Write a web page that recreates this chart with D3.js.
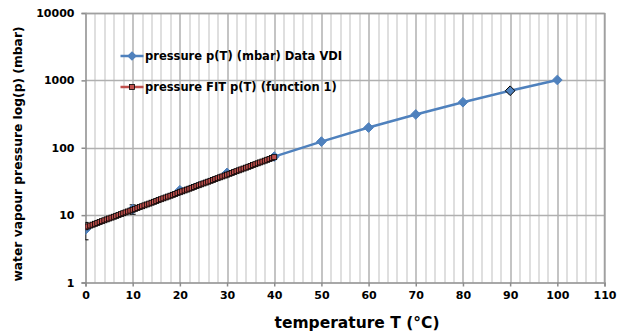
<!DOCTYPE html>
<html>
<head>
<meta charset="utf-8">
<script src="https://cdn.jsdelivr.net/npm/d3@7"></script>
<style>
  body { margin: 0; background: #fff; }
  text { font-family: "DejaVu Sans", Verdana, sans-serif; font-weight: bold; fill: #000; }
</style>
</head>
<body>
<div id="chart"></div>
<script>
// VDI table data
var vdiT = [0, 10, 20, 30, 40, 50, 60, 70, 80, 90, 100];
var vdiP = [6.1, 12.3, 23.4, 42.4, 73.8, 123.4, 199.4, 311.8, 473.8, 701.8, 1013];
// error bars on the first points (low, high)
var errT = [0, 10];
var errLo = [4.3, 10.3];
var errHi = [7.8, 14.2];

// fitted curve (function 1)
var fitT = [0, 0.5, 1, 1.5, 2, 2.5, 3, 3.5, 4, 4.5, 5, 5.5, 6, 6.5, 7, 7.5, 8, 8.5, 9, 9.5,
  10, 10.5, 11, 11.5, 12, 12.5, 13, 13.5, 14, 14.5, 15, 15.5, 16, 16.5, 17, 17.5, 18, 18.5, 19, 19.5,
  20, 20.5, 21, 21.5, 22, 22.5, 23, 23.5, 24, 24.5, 25, 25.5, 26, 26.5, 27, 27.5, 28, 28.5, 29, 29.5,
  30, 30.5, 31, 31.5, 32, 32.5, 33, 33.5, 34, 34.5, 35, 35.5, 36, 36.5, 37, 37.5, 38, 38.5, 39, 39.5, 40];
var fitP = [6.60, 6.80, 7.01, 7.22, 7.44, 7.67, 7.90, 8.14, 8.39, 8.65, 8.91, 9.18, 9.46, 9.75, 10.05, 10.35, 10.67, 10.99, 11.33, 11.67,
  12.03, 12.39, 12.77, 13.16, 13.56, 13.97, 14.40, 14.83, 15.28, 15.75, 16.23, 16.72, 17.23, 17.75, 18.29, 18.85, 19.42, 20.01, 20.62, 21.25,
  21.89, 22.56, 23.24, 23.95, 24.68, 25.43, 26.20, 27.00, 27.82, 28.66, 29.53, 30.43, 31.36, 32.31, 33.29, 34.30, 35.34, 36.42, 37.52, 38.66,
  39.84, 41.05, 42.30, 43.58, 44.91, 46.27, 47.68, 49.13, 50.62, 52.16, 53.75, 55.38, 57.06, 58.80, 60.58, 62.42, 64.32, 66.27, 68.29, 70.36, 72.50];

var xTicks = [0, 10, 20, 30, 40, 50, 60, 70, 80, 90, 100, 110];
var xMinor = [2, 4, 6, 8, 12, 14, 16, 18, 22, 24, 26, 28, 32, 34, 36, 38, 42, 44, 46, 48, 52, 54, 56, 58,
  62, 64, 66, 68, 72, 74, 76, 78, 82, 84, 86, 88, 92, 94, 96, 98, 102, 104, 106, 108];
var yTicks = [1, 10, 100, 1000, 10000];
var seriesNames = ["pressure p(T) (mbar) Data VDI", "pressure FIT p(T) (function 1)"];
var selectedT = 90;

var width = 617, height = 335,
    margin = {top: 13, right: 12, bottom: 52, left: 85.5};

var svg = d3.select("#chart").append("svg")
    .attr("width", width)
    .attr("height", height);

var g = svg.append("g")
    .attr("transform", "translate(" + margin.left + "," + margin.top + ")");

var xScale = d3.scaleLinear().domain([0, 110]).range([0, 519]);
var yScale = d3.scaleLog().domain([1, 10000]).range([269.5, 0]);

svg.append("clipPath").attr("id", "plotclip")
  .append("rect").attr("x", 0).attr("y", 0).attr("width", 519).attr("height", 269.5);

// minor vertical grid
g.selectAll(".minor").data(xMinor).enter().append("line")
    .attr("x1", d => Math.round(xScale(d)) + 0.5).attr("x2", d => Math.round(xScale(d)) + 0.5)
    .attr("y1", 0).attr("y2", yScale(1))
    .attr("stroke", "#d4d4d4").attr("stroke-width", 1.5);

// major vertical grid
g.selectAll(".major").data(xTicks.slice(1)).enter().append("line")
    .attr("x1", d => Math.round(xScale(d)) + 0.5).attr("x2", d => Math.round(xScale(d)) + 0.5)
    .attr("y1", 0).attr("y2", yScale(1))
    .attr("stroke", "#b0b0b0").attr("stroke-width", 1.5);

// horizontal grid
g.selectAll(".hgrid").data(yTicks.slice(1)).enter().append("line")
    .attr("x1", 0).attr("x2", xScale(110))
    .attr("y1", d => Math.round(yScale(d)) + 0.5).attr("y2", d => Math.round(yScale(d)) + 0.5)
    .attr("stroke", "#b0b0b0").attr("stroke-width", 1.5);

// axes
var xAxis = g.append("g")
    .attr("transform", "translate(0," + yScale(1) + ")")
    .call(d3.axisBottom(xScale).tickValues(xTicks).tickSize(4).tickPadding(5).tickFormat(d3.format("d")));
var yAxis = g.append("g")
    .call(d3.axisLeft(yScale).tickValues(yTicks).tickSize(4).tickPadding(7).tickFormat(d3.format("d")));

[xAxis, yAxis].forEach(function (a) {
  a.select(".domain").attr("stroke", "#8c8c8c").attr("stroke-width", 1.5);
  a.selectAll(".tick line").attr("stroke", "#8c8c8c").attr("stroke-width", 1.5);
  a.selectAll(".tick text").style("font-family", "'DejaVu Sans', Verdana, sans-serif")
    .style("font-weight", "bold").style("font-size", "11px").attr("fill", "#000");
});

var plot = g.append("g").attr("clip-path", "url(#plotclip)");

// error bars
var errData = errT.map((t, i) => ({t: t, lo: errLo[i], hi: errHi[i]}));
var eb = plot.selectAll(".err").data(errData).enter().append("g");
eb.append("line")
    .attr("x1", d => xScale(d.t)).attr("x2", d => xScale(d.t))
    .attr("y1", d => yScale(d.lo)).attr("y2", d => yScale(d.hi))
    .attr("stroke", "#000").attr("stroke-width", 1);
eb.selectAll(".cap").data(d => [[d.t, d.lo], [d.t, d.hi]]).enter().append("line")
    .attr("x1", d => xScale(d[0]) - 3).attr("x2", d => xScale(d[0]) + 3)
    .attr("y1", d => yScale(d[1])).attr("y2", d => yScale(d[1]))
    .attr("stroke", "#000").attr("stroke-width", 1);

// VDI series
var vdi = vdiT.map((t, i) => [t, vdiP[i]]);
var line = d3.line().x(d => xScale(d[0])).y(d => yScale(d[1]));
plot.append("path").datum(vdi)
    .attr("d", line).attr("fill", "none")
    .attr("stroke", "#4F81BD").attr("stroke-width", 2.5);

var diamond = d3.symbol().type(d3.symbolDiamond2).size(60);
plot.selectAll(".vdi").data(vdi).enter().append("path")
    .attr("d", diamond)
    .attr("transform", d => "translate(" + xScale(d[0]) + "," + yScale(d[1]) + ")")
    .attr("fill", "#4F81BD")
    .attr("stroke", d => d[0] === selectedT ? "#000" : "#4F81BD")
    .attr("stroke-width", 1);

// fit series
var fit = fitT.map((t, i) => [t, fitP[i]]);
plot.append("path").datum(fit)
    .attr("d", line).attr("fill", "none")
    .attr("stroke", "#C0504D").attr("stroke-width", 2.5);
plot.selectAll(".fit").data(fit).enter().append("rect")
    .attr("x", d => xScale(d[0]) - 2.5).attr("y", d => yScale(d[1]) - 2.5)
    .attr("width", 5).attr("height", 5)
    .attr("fill", "#C0504D").attr("stroke", "#000").attr("stroke-width", 0.8);

// plot frame (top + right)
g.append("path")
    .attr("d", "M0," + 0.5 + "H" + (xScale(110)) + "V" + yScale(1))
    .attr("fill", "none").attr("stroke", "#a0a0a0").attr("stroke-width", 1.5);

// legend
var legend = g.append("g").attr("transform", "translate(35,43)");
var items = legend.selectAll(".item").data(seriesNames).enter().append("g")
    .attr("transform", (d, i) => "translate(0," + (i * 31) + ")");
items.append("line")
    .attr("x1", 0).attr("x2", 23).attr("y1", 0).attr("y2", 0)
    .attr("stroke", (d, i) => i === 0 ? "#4F81BD" : "#C0504D").attr("stroke-width", 2.5);
items.filter((d, i) => i === 0).append("path")
    .attr("d", diamond).attr("transform", "translate(11.5,0)").attr("fill", "#4F81BD");
items.filter((d, i) => i === 1).append("rect")
    .attr("x", 9).attr("y", -2.5).attr("width", 5).attr("height", 5)
    .attr("fill", "#C0504D").attr("stroke", "#000").attr("stroke-width", 0.8);
items.append("text")
    .attr("x", 24.5).attr("dy", "0.35em")
    .style("font-size", "11.5px")
    .text(d => d);

// axis titles
svg.append("text")
    .attr("x", 357).attr("y", 328)
    .attr("text-anchor", "middle")
    .style("font-size", "15.5px")
    .text("temperature T (°C)");
svg.append("text")
    .attr("transform", "translate(22," + 154 + ") rotate(-90)")
    .attr("text-anchor", "middle")
    .style("font-size", "12.3px")
    .text("water vapour pressure log(p) (mbar)");
</script>
</body>
</html>
